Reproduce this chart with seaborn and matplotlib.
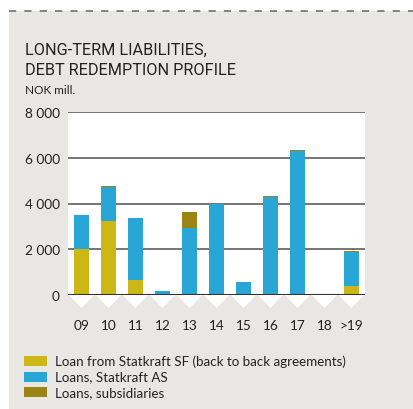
import matplotlib
matplotlib.use("Agg")
import matplotlib.pyplot as plt
import matplotlib.transforms as mtransforms
from matplotlib.patches import Rectangle, Polygon
from matplotlib.lines import Line2D
import seaborn as sns
import pandas as pd
import numpy as np

categories = ["09", "10", "11", "12", "13", "14", "15", "16", "17", "18", ">19"]
loan_sf = [2030, 3230, 670, 20, 0, 0, 0, 0, 0, 0, 410]
loans_as = [1450, 1510, 2680, 140, 2910, 3970, 550, 4300, 6300, 0, 1480]
loans_sub = [35, 35, 30, 30, 740, 30, 30, 30, 30, 20, 40]
series_names = ["Loan from Statkraft SF (back to back agreements)",
                "Loans, Statkraft AS", "Loans, subsidiaries"]
colors = ["#CDB717", "#28A6D6", "#9C8414"]
yticks = [0, 2000, 4000, 6000, 8000]
ytick_labels = ["0", "2 000", "4 000", "6 000", "8 000"]

sns.set_theme(style="white")
plt.rcParams["font.family"] = ["Lato", "DejaVu Sans"]

W, H = 413, 410
fig = plt.figure(figsize=(W / 100, H / 100), dpi=100)
fig.patch.set_facecolor("white")

# grey panel
fig.patches.append(Rectangle((9 / W, 0), 1 - 9 / W, 1 - 12 / H,
                             transform=fig.transFigure, facecolor="#E8E7E3",
                             edgecolor="none", zorder=-5))
# dashed top line
fig.lines.append(Line2D([9 / W, 1], [1 - 12 / H, 1 - 12 / H],
                        transform=fig.transFigure, color="#7a7a7a", lw=1.3,
                        linestyle=(0, (4, 4.5)), zorder=-4))

fig.text(25 / W, 1 - 50 / H, "LONG-TERM LIABILITIES,", fontsize=11.7,
         color="#222222", va="center", ha="left", fontfamily=["Roboto", "DejaVu Sans"])
fig.text(25 / W, 1 - 71 / H, "DEBT REDEMPTION PROFILE", fontsize=11.7,
         color="#222222", va="center", ha="left", fontfamily=["Roboto", "DejaVu Sans"])
fig.text(25 / W, 1 - 91 / H, "NOK mill.", fontsize=8.5, color="#222222",
         va="center", ha="left")

left, right, top, bottom = 68, 365, 113, 296
ax = fig.add_axes([left / W, 1 - bottom / H, (right - left) / W, (bottom - top) / H])
ax.set_zorder(2)
ax.set_facecolor("white")

df = pd.DataFrame({"cat": categories, "sf": loan_sf, "as": loans_as, "sub": loans_sub})
df["c1"] = df["sf"]
df["c2"] = df["sf"] + df["as"]
df["c3"] = df["c2"] + df["sub"]

for col, c in zip(["c3", "c2", "c1"], [colors[2], colors[1], colors[0]]):
    sns.barplot(data=df, x="cat", y=col, order=categories, color=c,
                width=0.52, ax=ax, saturation=1, linewidth=0, zorder=3)

ax.set_xlim(-0.5, len(categories) - 0.5)
ax.set_ylim(0, 8000)
for y in yticks[1:]:
    ax.axhline(y, color="#5e5e5e", lw=1.2, zorder=1)
ax.axhline(0, color="#333333", lw=1.5, zorder=4)
for s in ax.spines.values():
    s.set_visible(False)
ax.set_yticks(yticks)
ax.set_yticklabels(ytick_labels, fontsize=9.8, color="#222222")
ax.tick_params(axis="y", length=0, pad=6)
ax.set_xticks(range(len(categories)))
ax.set_xticklabels(categories, fontsize=9.8, color="#222222")
ax.tick_params(axis="x", length=0, pad=17)
ax.set_xlabel("")
ax.set_ylabel("")

# white triangles below the axis
trans = mtransforms.blended_transform_factory(ax.transData, ax.transAxes)
th = 13 / (bottom - top)
for i in range(len(categories)):
    tri = Polygon([[i - 0.47, 0], [i + 0.47, 0], [i, -th]], closed=True,
                  transform=trans, facecolor="white", edgecolor="none",
                  clip_on=False, zorder=0)
    ax.add_patch(tri)

# legend
for k, (name, c) in enumerate(zip(series_names, colors)):
    yc = 362 + k * 15.5
    fig.patches.append(Rectangle((24 / W, 1 - (yc + 5) / H), 23 / W, 10 / H,
                                 transform=fig.transFigure, facecolor=c,
                                 edgecolor="none"))
    fig.text(55 / W, 1 - yc / H, name, fontsize=9.6, color="#222222",
             va="center", ha="left")

fig.savefig("out.png", dpi=100, facecolor=fig.get_facecolor())
